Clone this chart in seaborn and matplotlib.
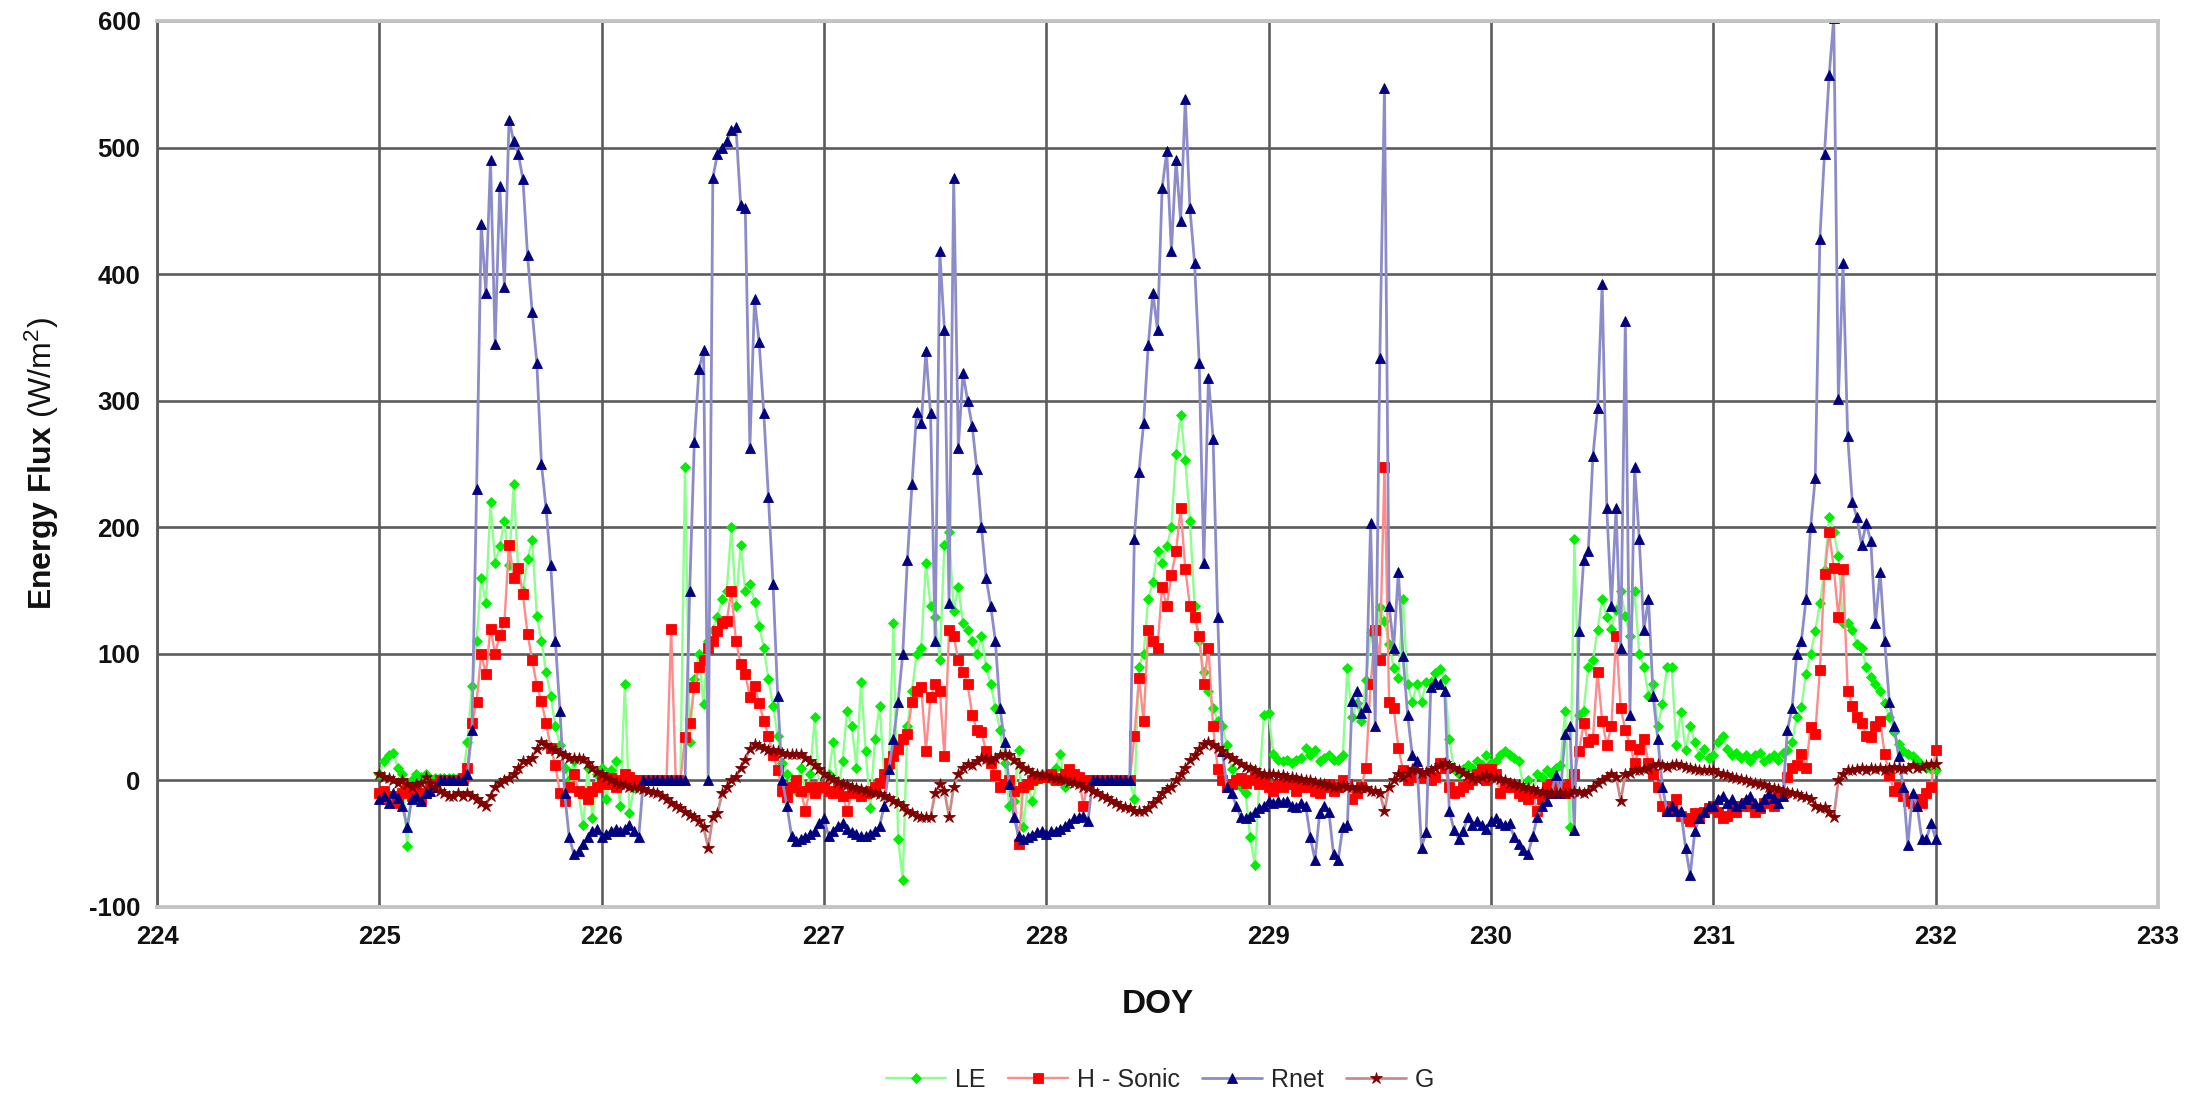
import numpy as np
import pandas as pd
import matplotlib
matplotlib.use("Agg")
import matplotlib.pyplot as plt
import seaborn as sns

# Half-hourly samples, DOY 225.0 ... 232.0
DOY_START = 225
STEPS_PER_DAY = 48

LE = [
    # 225
    5, 15, 20, 22, 10, 5, -52, 0, 5, 3, 5, 0, 2, 2, 2, 2, 2, 2, 2, 30,
    75, 110, 160, 140, 220, 172, 185, 205, 170, 234, 165, 150, 175, 190, 130, 110, 86, 67, 43, 28,
    10, 0, 15, -10, -35, 10, -30, 5,
    # 226
    10, -15, 8, 15, -20, 76, -26, -5, 0, 0, 0, 0, 0, 0, 0, 0, 0, 0, 248, 30,
    80, 100, 60, 110, 119, 129, 143, 150, 200, 138, 186, 150, 155, 141, 122, 105, 80, 59, 35, 14,
    5, -5, -8, 10, -10, 5, 50, -8,
    # 227
    -5, 5, 30, -10, 15, 55, 43, 10, 78, 23, -22, 33, 59, 5, 10, 124, -46, -79, 43, 71,
    100, 105, 172, 138, 129, 95, 186, 196, 134, 153, 124, 119, 110, 100, 114, 90, 76, 57, 40, 14,
    -20, -16, 24, -37, -5, -16, 0, 5,
    # 228
    5, 0, 10, 21, -5, 0, 2, 0, 0, 0, 0, 0, 0, 0, 0, 0, 0, 0, 0, -15,
    90, 100, 143, 157, 181, 172, 185, 200, 258, 289, 253, 205, 138, 110, 86, 71, 57, 47, 43, 28,
    9, 0, -5, -10, -45, -67, 0, 52,
    # 229
    53, 21, 16, 15, 16, 14, 16, 18, 26, 20, 24, 15, 18, 20, 16, 16, 20, 89, 50, 61,
    47, 79, 117, 100, 137, 126, 108, 89, 81, 143, 76, 62, 76, 62, 78, 78, 85, 88, 80, 33,
    9, 5, 9, 12, 10, 15, 12, 20,
    # 230
    14, 15, 20, 23, 20, 18, 15, -5, 0, -10, 5, 3, 8, 5, 10, 12, 55, -37, 191, 52,
    55, 90, 95, 119, 143, 129, 120, 135, 150, 130, 114, 150, 100, 90, 67, 76, 43, 60, 90, 90,
    28, 54, 24, 43, 30, 19, 25, 18,
    # 231
    20, 30, 35, 25, 20, 22, 18, 20, 15, 20, 22, 15, 18, 20, 16, 22, 24, 30, 50, 58,
    84, 100, 118, 140, 166, 208, 196, 177, 124, 124, 119, 108, 105, 90, 82, 76, 71, 61, 50, 38,
    29, 23, 21, 19, 16, 12, 10, 9,
    # 232.0
    8,
]

H_SONIC = [
    # 225
    -10, -8, -15, -12, -18, -10, -5, -12, -8, -15, -10, -5, -3, 0, 0, 0, 0, 0, 2, 10,
    45, 62, 100, 84, 120, 100, 115, 125, 186, 160, 168, 147, 116, 95, 75, 63, 45, 26, 12, -10,
    -16, -5, 5, -8, -10, -15, -8, -5,
    # 226
    0, -3, 2, -5, 0, 5, 3, 0, 0, 0, 0, 0, 0, 0, 0, 120, 0, 0, 34, 45,
    74, 90, 95, 105, 110, 118, 124, 126, 150, 110, 92, 84, 66, 75, 61, 47, 35, 20, 8, -8,
    -13, -5, 0, -8, -24, -5, -10, -5,
    # 227
    -5, -8, -10, -5, -12, -24, -10, -8, -12, -10, -8, -5, -2, 5, 14, 19, 25, 33, 37, 62,
    71, 74, 23, 66, 76, 71, 19, 119, 114, 95, 86, 76, 52, 40, 38, 23, 14, 4, -5, -3,
    0, -8, -50, -5, -3, 0, 2, 3,
    # 228
    3, 5, 0, 2, 5, 9, 5, 3, -20, 0, 0, 0, 0, 0, 0, 0, 0, 0, 0, 35,
    81, 47, 119, 110, 105, 153, 138, 162, 181, 215, 167, 138, 129, 114, 76, 105, 43, 9, 0, -5,
    -3, 0, 2, -2, 0, 3, -3, 0,
    # 229
    -5, -8, -3, -5, 0, -3, -8, -5, -2, -5, -8, -10, -5, -3, -8, -5, 0, -3, -15, -10,
    -5, 10, 76, 119, 95, 248, 62, 57, 26, 8, 0, 3, 4, 2, 4, 0, 3, 14, 10, -5,
    -10, -8, -5, -3, 0, 5, 9, 0,
    # 230
    9, 5, -10, -5, -3, -5, -10, -12, -15, -10, -24, -15, -5, -3, -8, -5, -10, -3, 5, 23,
    45, 30, 33, 86, 47, 28, 43, 114, 57, 40, 28, 14, 25, 33, 14, 5, -5, -20, -24, -20,
    -15, -28, -30, -32, -26, -30, -25, -22,
    # 231
    -20, -25, -30, -28, -22, -25, -20, -18, -20, -25, -22, -18, -15, -20, -12, -10, 3, 10, 12, 21,
    10, 42, 37, 87, 163, 196, 168, 129, 167, 71, 59, 50, 45, 35, 34, 43, 47, 21, 4, -8,
    -5, -12, -16, -18, -15, -18, -10, -5,
    # 232.0
    24,
]

RNET = [
    # 225
    -15, -12, -18, -10, -14, -20, -37, -15, -12, -16, -10, -8, -5, 0, 0, 0, 0, 0, 0, 5,
    40, 230, 440, 385, 490, 345, 470, 390, 522, 505, 495, 475, 415, 370, 330, 250, 215, 170, 110, 55,
    -10, -45, -58, -56, -50, -45, -40, -38,
    # 226
    -45, -42, -40, -38, -40, -38, -35, -40, -45, 0, 0, 0, 0, 0, 0, 0, 0, 0, 0, 150,
    267, 325, 340, 0, 476, 495, 500, 505, 514, 516, 455, 452, 263, 380, 346, 290, 224, 155, 67, 0,
    -20, -44, -48, -46, -45, -42, -40, -34,
    # 227
    -30, -44, -40, -36, -34, -38, -41, -42, -44, -44, -42, -40, -36, -20, 9, 33, 62, 100, 174, 234,
    291, 282, 339, 290, 110, 418, 356, 140, 476, 263, 322, 300, 280, 246, 200, 160, 138, 110, 57, 30,
    -3, -29, -44, -46, -45, -43, -41, -40,
    # 228
    -42, -40, -40, -38, -36, -34, -30, -29, -28, -32, 0, 0, 0, 0, 0, 0, 0, 0, 0, 191,
    244, 282, 344, 385, 356, 468, 497, 418, 490, 442, 538, 452, 409, 330, 172, 318, 270, 129, 23, -5,
    -10, -20, -29, -30, -28, -25, -22, -20,
    # 229
    -16, -18, -16, -17, -16, -20, -21, -18, -20, -45, -63, -26, -20, -25, -58, -63, -37, -35, 63, 71,
    53, 58, 203, 43, 334, 547, 138, 105, 165, 98, 52, 20, 15, -53, -41, 74, 78, 76, 71, -24,
    -39, -46, -40, -29, -35, -32, -35, -38,
    # 230
    -32, -30, -34, -35, -34, -45, -50, -55, -58, -44, -29, -20, -16, -10, 4, -10, 37, 43, -39, 118,
    174, 181, 256, 294, 392, 215, 138, 215, 105, 363, 52, 248, 191, 119, 143, 67, 33, -5, -24, -20,
    -24, -24, -53, -75, -40, -30, -25, -20,
    # 231
    -20, -15, -12, -18, -15, -20, -18, -15, -12, -18, -20, -15, -10, -14, -18, -12, 40, 57, 100, 110,
    143, 200, 239, 428, 495, 557, 602, 301, 409, 272, 220, 208, 186, 203, 189, 124, 165, 110, 62, 43,
    19, -5, -51, -10, -20, -46, -46, -34,
    # 232.0
    -46,
]

G = [
    # 225
    5, 3, 2, 0, -2, 0, -3, -5, -3, -2, 3, -2, -5, -8, -10, -12, -12, -10, -12, -10,
    -12, -15, -18, -20, -12, -5, -2, 0, 2, 5, 10, 15, 15, 18, 25, 30, 28, 26, 24, 22,
    20, 18, 18, 18, 17, 14, 10, 7,
    # 226
    5, 3, 0, -2, -3, -4, -5, -5, -6, -7, -8, -9, -10, -12, -15, -18, -20, -22, -25, -27,
    -29, -32, -37, -53, -29, -26, -10, -5, 0, 3, 10, 16, 25, 29, 27, 26, 24, 24, 23, 22,
    21, 21, 21, 21, 18, 15, 12, 9,
    # 227
    5, 3, 1, -1, -3, -4, -5, -6, -7, -8, -9, -10, -11, -12, -14, -16, -18, -20, -24, -26,
    -28, -29, -29, -29, -10, -3, -8, -29, -5, 5, 10, 13, 12, 15, 18, 17, 16, 18, 20, 21,
    20, 16, 13, 10, 8, 6, 5, 4,
    # 228
    4, 3, 2, 1, 0, -1, -2, -3, -5, -6, -8, -10, -12, -14, -16, -18, -20, -21, -22, -24,
    -24, -24, -22, -18, -15, -10, -7, -5, 0, 5, 10, 16, 20, 25, 29, 30, 28, 26, 23, 20,
    18, 15, 13, 11, 10, 8, 6, 5,
    # 229
    5, 5, 4, 4, 3, 3, 2, 1, 0, 0, -1, -2, -3, -4, -5, -5, -4, -5, -5, -6,
    -5, -6, -8, -8, -10, -24, -5, 0, 5, 3, 6, 9, 8, 6, 7, 8, 10, 12, 14, 12,
    10, 8, 6, 4, 2, 1, 3, 4,
    # 230
    3, 2, 1, 0, -2, -3, -4, -5, -6, -7, -8, -9, -10, -10, -10, -10, -10, -10, -8, -9,
    -10, -8, -5, -2, 0, 3, 5, 3, -16, 5, 6, 8, 8, 9, 10, 12, 13, 12, 11, 12,
    13, 12, 11, 10, 9, 8, 8, 8,
    # 231
    8, 6, 5, 4, 3, 2, 1, 0, -1, -2, -3, -4, -5, -6, -7, -8, -9, -10, -11, -12,
    -13, -15, -20, -22, -21, -25, -29, 0, 5, 8, 8, 9, 10, 8, 10, 9, 10, 8, 10, 11,
    10, 9, 10, 12, 10, 11, 12, 13,
    # 232.0
    13,
]

SERIES_NAMES = ["LE", "H - Sonic", "Rnet", "G"]
X_TICKS = list(range(224, 234))
Y_TICKS = list(range(-100, 601, 100))

for arr in (LE, H_SONIC, RNET, G):
    assert len(arr) == 7 * STEPS_PER_DAY + 1, len(arr)

sns.set_theme(style="white")
plt.rcParams["font.family"] = ["Liberation Sans", "DejaVu Sans"]
plt.rcParams["mathtext.fontset"] = "custom"
plt.rcParams["mathtext.rm"] = "Liberation Sans"
plt.rcParams["mathtext.bf"] = "Liberation Sans:bold"
plt.rcParams["mathtext.it"] = "Liberation Sans:italic"
plt.rcParams["axes.unicode_minus"] = False

n = len(LE)
doy = DOY_START + np.arange(n) / STEPS_PER_DAY
df = pd.DataFrame({"DOY": doy, "LE": LE, "H - Sonic": H_SONIC, "Rnet": RNET, "G": G})

W, H = 2185, 1094
fig = plt.figure(figsize=(W / 100, H / 100), dpi=100)
ax = fig.add_axes([157 / W, 187 / H, (2158 - 157) / W, (1073 - 187) / H])

styles = {
    "LE": dict(line="#8cff8c", mc="#00ee00", marker="D", ms=5.0, lw=1.7),
    "H - Sonic": dict(line="#ff8a8a", mc="#ff0000", marker="s", ms=6.5, lw=1.7),
    "Rnet": dict(line="#8c8cc8", mc="#000080", marker="^", ms=7.5, lw=2.0),
    "G": dict(line="#c88c8c", mc="#800000", marker="*", ms=9.0, lw=2.0),
}
for name in SERIES_NAMES:
    st = styles[name]
    sns.lineplot(data=df, x="DOY", y=name, ax=ax, color=st["line"],
                 marker=st["marker"], markersize=st["ms"],
                 markerfacecolor=st["mc"], markeredgecolor=st["mc"],
                 markeredgewidth=0.6, linewidth=st["lw"], label=name,
                 legend=False, estimator=None, sort=False)

ax.set_xlim(224, 233)
ax.set_ylim(-100, 600)
ax.set_xticks(X_TICKS)
ax.set_yticks(Y_TICKS)
ax.set_axisbelow(True)
ax.grid(True, color="#5c5c5c", linewidth=1.9)

for side in ["top", "right", "bottom"]:
    ax.spines[side].set_color("#c4c4c4")
    ax.spines[side].set_linewidth(2.8)
ax.spines["left"].set_color("#5c5c5c")
ax.spines["left"].set_linewidth(2.0)

ax.tick_params(axis="both", direction="out", length=5, width=1.5, color="#5c5c5c",
               labelsize=18.5, labelcolor="#111111")
ax.tick_params(axis="x", pad=8)
ax.tick_params(axis="y", pad=7)
for lbl in ax.get_xticklabels() + ax.get_yticklabels():
    lbl.set_fontweight("bold")

ax.set_xlabel("DOY", fontsize=24, fontweight="bold", color="#111111")
ax.xaxis.set_label_coords(0.5, -0.093)
ax.set_ylabel(r"$\mathbf{Energy\ Flux}$ (W/m$^{2}$)", fontsize=23, color="#111111")
ax.yaxis.set_label_coords(-0.048, 0.5)

handles, labels = ax.get_legend_handles_labels()
fig.legend(handles, labels, loc="center", bbox_to_anchor=(0.531, 0.013), ncol=4,
           frameon=False, fontsize=18, handlelength=2.4, handletextpad=0.35,
           columnspacing=0.9, numpoints=1)

fig.savefig("out.png", dpi=100)
